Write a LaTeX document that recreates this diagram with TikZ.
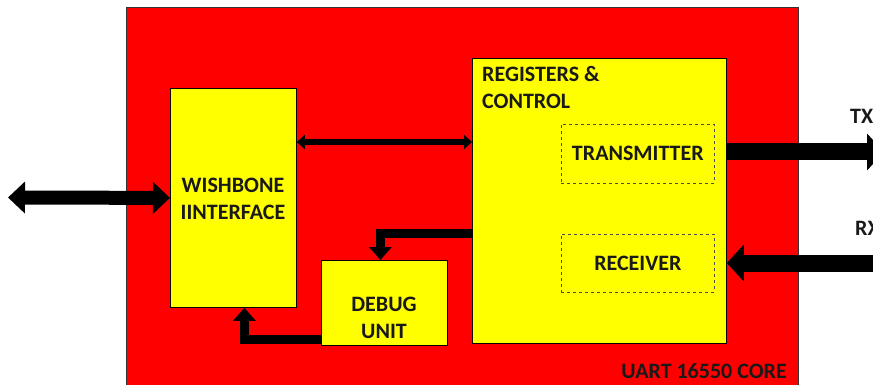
\documentclass[tikz,border=0pt]{standalone}
\usepackage{fontspec}
\setmainfont{Carlito}
\usetikzlibrary{arrows.meta,calc}
\definecolor{cred}{HTML}{FF0000}
\definecolor{cyel}{HTML}{FFFF00}
\tikzset{
  blk/.style={draw=black, line width=0.8pt, fill=cyel, anchor=north west, inner sep=0pt},
  dsh/.style={draw=black!70, dashed, line width=0.7pt, anchor=north west, inner sep=0pt},
  lbl/.style={font=\fontsize{22}{27}\selectfont\bfseries, align=center, text=black!90},
  bigarrow/.style={line width=17pt, -{Triangle[width=36pt,length=17pt]}},
  bigdbl/.style={line width=14pt, {Triangle[width=31pt,length=17pt]}-{Triangle[width=31pt,length=17pt]}},
  smdbl/.style={line width=6pt, {Triangle[width=14pt,length=8pt]}-{Triangle[width=14pt,length=8pt]}},
  midarrow/.style={line width=9pt, -{Triangle[width=22pt,length=13pt]}},
}
\begin{document}
\begin{tikzpicture}[x=1pt,y=-1pt]
\useasboundingbox (0,0) rectangle (873,385);
\clip (0,0) rectangle (873,385);
% outer core
\node[draw=black!80, line width=0.8pt, fill=cred, anchor=north west, inner sep=0pt,
      minimum width=672pt, minimum height=390pt] (core) at (126,7) {};
\node[lbl, anchor=base east, inner sep=0pt] (corelbl) at (787,378) {UART 16550 CORE};
% blocks
\node[blk, minimum width=126pt, minimum height=219pt] (wb) at (170,88) {};
\node[lbl] (wbl) at (233,198.5) {WISHBONE\\IINTERFACE};
\node[blk, minimum width=254pt, minimum height=285pt] (reg) at (472,58) {};
\node[lbl, anchor=base west, inner sep=0pt] (regl1) at (482,82) {REGISTERS \&};
\node[lbl, anchor=base west, inner sep=0pt] (regl2) at (482,109) {CONTROL};
\node[dsh, minimum width=153pt, minimum height=59pt] (tx) at (561,124) {};
\node[lbl] (txl) at (tx.center) {TRANSMITTER};
\node[dsh, minimum width=153pt, minimum height=58pt] (rx) at (561,234) {};
\node[lbl] (rxl) at (rx.center) {RECEIVER};
\node[blk, minimum width=126pt, minimum height=85pt] (dbg) at (321,260) {};
\node[lbl] (dbgl) at (384,317.5) {DEBUG\\UNIT};
% external labels
\node[lbl, anchor=base west, inner sep=0pt] (txt) at (850,124) {TX};
\node[lbl, anchor=base west, inner sep=0pt] (rxt) at (855,235) {RX};
% coordinates
\coordinate (L) at (8,197.5);
\coordinate (TXend) at (884,152);
\coordinate (RXstart) at (890,263);
% connectors
\draw[bigdbl] (L) -- (wb.west);
\draw[smdbl] (wb.east |- 0,142) -- (reg.west |- 0,142);
\draw[bigarrow] (reg.east |- TXend) -- (TXend);
\draw[bigarrow] (RXstart) -- (reg.east |- RXstart);
\draw[midarrow] ($(reg.west |- 0,233)+(0.5,0)$) -| ([xshift=-4pt]dbg.north);
\draw[midarrow] ($(dbg.west |- 0,339)+(0.5,0)$) -| ([xshift=11pt]wb.south);
\end{tikzpicture}
\end{document}
